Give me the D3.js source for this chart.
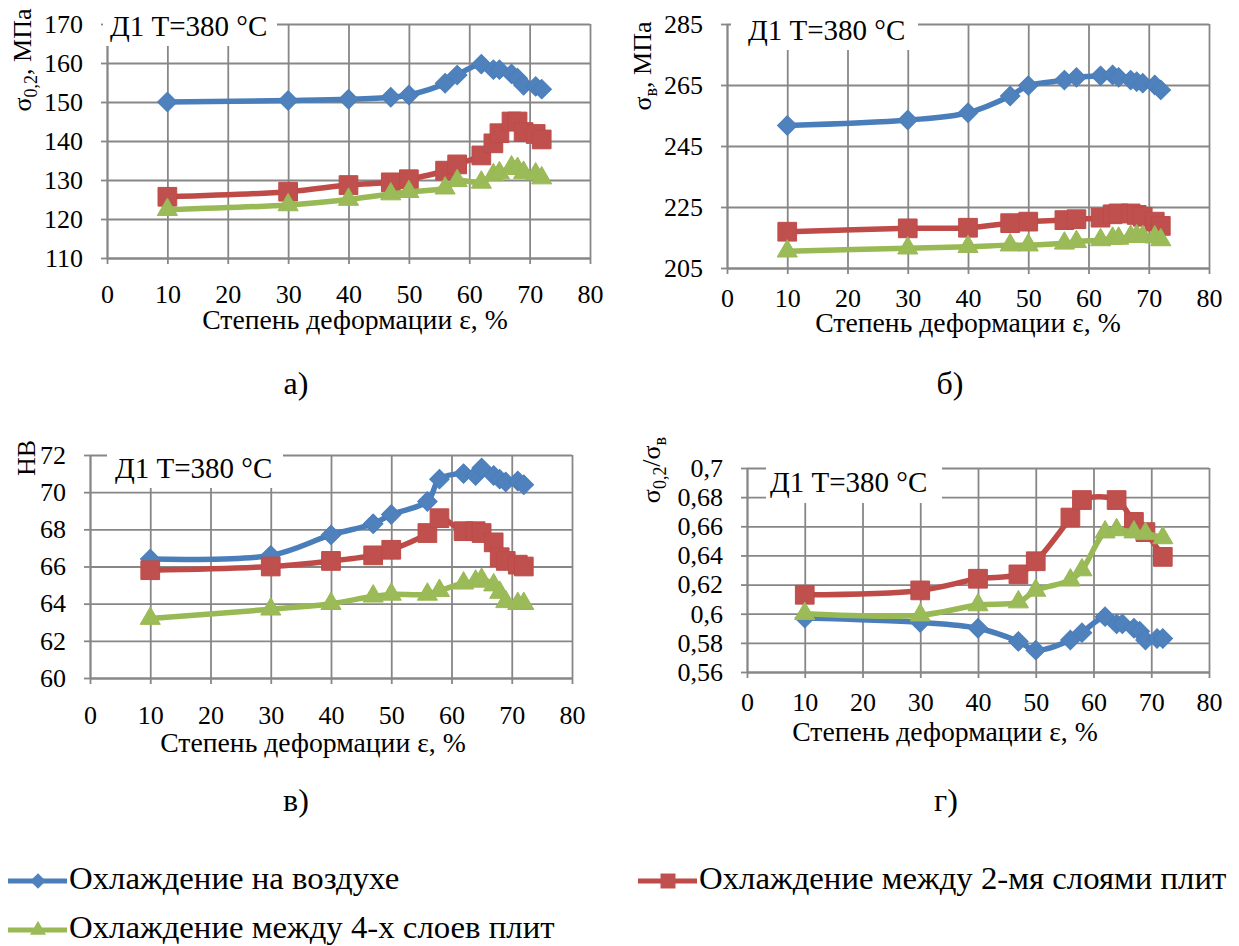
<!DOCTYPE html>
<html>
<head>
<meta charset="utf-8">
<script src="https://cdn.jsdelivr.net/npm/d3@7"></script>
<style>
  body { margin: 0; background: #fff; }
  svg text { font-family: "Liberation Serif", "Times New Roman", Tinos, "DejaVu Serif", "Noto Serif", serif; fill: #000; }
</style>
</head>
<body>
<svg id="chart" width="1239" height="946"></svg>
<script>
// Degree of deformation, %
const degree = [10, 30, 40, 47, 50, 56, 58, 62, 64, 65, 67, 68, 69, 71, 72];

const seriesNames = [
  "Охлаждение на воздухе",
  "Охлаждение между 2-мя слоями плит",
  "Охлаждение между 4-х слоев плит"
];

// а) yield strength σ0,2, MPa
const yieldAir  = [150.0, 150.4, 150.7, 151.2, 151.8, 154.8, 156.9, 159.7, 158.3, 158.3, 157.2, 156.1, 154.3, 154.0, 153.3];
const yieldTwo  = [125.7, 127.0, 128.7, 129.4, 130.2, 132.4, 134.0, 136.3, 139.4, 142.0, 145.0, 145.0, 142.3, 141.8, 140.4];
const yieldFour = [122.4, 123.6, 125.0, 126.4, 127.0, 127.9, 129.8, 129.4, 131.3, 131.8, 133.3, 132.9, 131.9, 131.5, 130.5];

// б) tensile strength σв, MPa
const tensileAir  = [251.7, 253.5, 255.9, 261.4, 264.8, 266.6, 267.5, 268.0, 268.3, 267.5, 266.6, 266.1, 265.6, 265.0, 263.4];
const tensileTwo  = [216.9, 218.0, 218.2, 219.7, 220.2, 220.7, 221.0, 221.5, 222.6, 222.9, 222.9, 222.4, 221.8, 220.2, 218.8];
const tensileFour = [210.5, 211.5, 212.0, 212.5, 212.5, 213.1, 213.6, 214.2, 214.7, 214.7, 215.3, 215.5, 215.3, 215.1, 214.2];

// в) hardness HB
const hardAir  = [66.4, 66.6, 67.7, 68.3, 68.8, 69.5, 70.7, 71.0, 70.9, 71.3, 70.9, 70.7, 70.55, 70.6, 70.4];
const hardTwo  = [65.8, 66.0, 66.3, 66.6, 66.9, 67.8, 68.6, 67.9, 67.9, 67.8, 67.3, 66.5, 66.3, 66.1, 66.0];
const hardFour = [63.2, 63.7, 64.0, 64.4, 64.5, 64.5, 64.7, 65.1, 65.2, 65.3, 65.0, 64.6, 64.1, 64.0, 64.0];

// г) ratio σ0,2/σв (null = no point at that degree)
const ratioAir  = [0.597, 0.594, 0.590, 0.581, 0.575, 0.582, 0.587, 0.598, 0.593, 0.593, 0.590, 0.588, 0.582, 0.583, 0.583];
const ratioTwo  = [0.613, 0.616, 0.624, 0.627, 0.636, 0.666, 0.678, null, 0.678, null, 0.663, null, 0.656, null, 0.639];
const ratioFour = [0.600, 0.599, 0.606, 0.608, 0.616, 0.623, 0.630, 0.656, 0.6575, null, 0.656, null, 0.655, null, 0.652];

// tick values
const xTicks = [0, 10, 20, 30, 40, 50, 60, 70, 80];
const yieldTicks = [110, 120, 130, 140, 150, 160, 170];
const tensileTicks = [205, 225, 245, 265, 285];
const hardTicks = [60, 62, 64, 66, 68, 70, 72];
const ratioTicks = [0.56, 0.58, 0.6, 0.62, 0.64, 0.66, 0.68, 0.7];

const colors = ["#4A7EBB", "#BE4B48", "#98B954"];
const markerFill = ["#4F81BD", "#C0504D", "#9BBB59"];
const gridColor = "#878787";
const serif = "'Liberation Serif', 'Times New Roman', Tinos, 'DejaVu Serif', 'Noto Serif', serif";
const noteText = "Д1 T=380 °C";
const xTitle = "Степень деформации ε, %";

const svg = d3.select("#chart");

// stretch a text horizontally a little (the source fonts run wider)
function widen(sel, k) {
  sel.each(function () {
    const w = this.getComputedTextLength();
    d3.select(this).attr("textLength", w * k).attr("lengthAdjust", "spacingAndGlyphs");
  });
}

// marker shapes: diamond, square, triangle
function marker(i, scale) {
  const s = scale || 1;
  if (i === 0) return { path: d3.symbol(d3.symbolSquare, 190 * s * s)(), rot: 45 };
  if (i === 1) return { path: d3.symbol(d3.symbolSquare, 350 * s * s)(), rot: 0 };
  return { path: d3.symbol(d3.symbolTriangle, 175 * s * s)(), rot: 0 };
}

const panels = [
  { series: [yieldAir, yieldTwo, yieldFour], ticks: yieldTicks, domain: [110, 170],
    left: 107, right: 590, top: 24, bottom: 258, xPad: 21, titleY: 329,
    box: [103, 6, 174, 40], note: [110, 36], xTitleX: 355, letter: "а)", letterPos: [296, 394],
    yTitle: [{ t: "σ" }, { t: "0,2", sub: true }, { t: ", МПа" }], yTitlePos: [31, 60] },
  { series: [tensileAir, tensileTwo, tensileFour], ticks: tensileTicks, domain: [205, 285],
    left: 727, right: 1209, top: 24, bottom: 268, xPad: 15, titleY: 332,
    box: [731, 6, 187, 44], note: [748, 40], xTitleX: 968, letter: "б)", letterPos: [950, 394],
    yTitle: [{ t: "σ" }, { t: "в", sub: true }, { t: ", МПа" }], yTitlePos: [651, 66] },
  { series: [hardAir, hardTwo, hardFour], ticks: hardTicks, domain: [60, 72],
    left: 90, right: 572, top: 455, bottom: 678, xPad: 22, titleY: 752,
    box: [107, 438, 176, 50], note: [115, 478], xTitleX: 313, letter: "в)", letterPos: [296, 811],
    yTitle: [{ t: "НВ" }], yTitlePos: [35, 458] },
  { series: [ratioAir, ratioTwo, ratioFour], ticks: ratioTicks, domain: [0.56, 0.7],
    left: 747, right: 1209, top: 468, bottom: 672, xPad: 15, titleY: 741,
    box: [766, 452, 176, 51], note: [770, 492], xTitleX: 945, letter: "г)", letterPos: [946, 811],
    yTitle: [{ t: "σ" }, { t: "0,2", sub: true }, { t: "/σ" }, { t: "в", sub: true }], yTitlePos: [660, 470] }
];

function styleAxis(sel) {
  sel.attr("font-family", serif).attr("font-size", 26);
  sel.selectAll("line, path").attr("stroke", gridColor).attr("stroke-width", 1.8);
  sel.selectAll("text").attr("fill", "#000");
}

function drawPanel(p) {
  const x = d3.scaleLinear().domain([0, 80]).range([p.left, p.right]);
  const y = d3.scaleLinear().domain(p.domain).range([p.bottom, p.top]);
  const g = svg.append("g").attr("font-family", serif);
  const fmt = d => String(d).replace(".", ",");

  // grid
  g.append("g")
    .attr("transform", `translate(${p.left},0)`)
    .call(d3.axisLeft(y).tickValues(p.ticks).tickSize(-(p.right - p.left)).tickFormat(""))
    .call(s => s.select(".domain").remove())
    .call(styleAxis);
  g.append("g")
    .attr("transform", `translate(0,${p.bottom})`)
    .call(d3.axisBottom(x).tickValues(xTicks).tickSize(-(p.bottom - p.top)).tickFormat(""))
    .call(s => s.select(".domain").remove())
    .call(styleAxis);

  // axes with labels
  g.append("g")
    .attr("transform", `translate(${p.left},0)`)
    .call(d3.axisLeft(y).tickValues(p.ticks).tickSizeInner(6).tickSizeOuter(0).tickPadding(18).tickFormat(fmt))
    .call(styleAxis);
  g.append("g")
    .attr("transform", `translate(0,${p.bottom})`)
    .call(d3.axisBottom(x).tickValues(xTicks).tickSizeInner(6).tickSizeOuter(0).tickPadding(p.xPad))
    .call(styleAxis);

  // note box
  g.append("rect")
    .attr("x", p.box[0]).attr("y", p.box[1])
    .attr("width", p.box[2]).attr("height", p.box[3])
    .attr("fill", "#fff");
  g.append("text")
    .attr("x", p.note[0]).attr("y", p.note[1])
    .attr("font-size", 29)
    .text(noteText);

  // x title
  g.append("text")
    .attr("x", p.xTitleX).attr("y", p.titleY)
    .attr("text-anchor", "middle")
    .attr("font-size", 26.5)
    .text(xTitle)
    .call(widen, 1.045);

  // y title (rotated)
  const yt = g.append("text")
    .attr("transform", `translate(${p.yTitlePos[0]},${p.yTitlePos[1]}) rotate(-90)`)
    .attr("text-anchor", "middle")
    .attr("font-size", 26);
  let shifted = false;
  p.yTitle.forEach(part => {
    const ts = yt.append("tspan").text(part.t);
    if (part.sub && !shifted) { ts.attr("dy", 6).attr("font-size", 18); shifted = true; }
    else if (part.sub) { ts.attr("font-size", 18); }
    else if (shifted) { ts.attr("dy", -6); shifted = false; }
  });

  // panel letter
  g.append("text")
    .attr("x", p.letterPos[0]).attr("y", p.letterPos[1])
    .attr("text-anchor", "middle")
    .attr("font-size", 32)
    .text(p.letter);

  // series
  const line = d3.line()
    .x(d => x(d[0]))
    .y(d => y(d[1]))
    .curve(d3.curveCatmullRom.alpha(0.5));

  p.series.forEach((vals, i) => {
    const pts = degree.map((d, k) => [d, vals[k]]).filter(d => d[1] != null);
    g.append("path")
      .datum(pts)
      .attr("fill", "none")
      .attr("stroke", colors[i])
      .attr("stroke-width", 5.5)
      .attr("stroke-linejoin", "round")
      .attr("d", line);
    const m = marker(i);
    g.selectAll(null)
      .data(pts)
      .join("path")
      .attr("transform", d => `translate(${x(d[0])},${y(d[1])}) rotate(${m.rot})`)
      .attr("d", m.path)
      .attr("fill", markerFill[i])
      .attr("stroke", colors[i])
      .attr("stroke-width", 1);
  });
}

panels.forEach(drawPanel);

// legend
const legendItems = [
  { i: 0, x: 8, y: 881 },
  { i: 1, x: 638, y: 881 },
  { i: 2, x: 8, y: 930 }
];
legendItems.forEach(it => {
  const lg = svg.append("g").attr("font-family", serif);
  lg.append("line")
    .attr("x1", it.x).attr("x2", it.x + 59)
    .attr("y1", it.y).attr("y2", it.y)
    .attr("stroke", colors[it.i]).attr("stroke-width", 5);
  const m = marker(it.i, 0.8);
  lg.append("path")
    .attr("transform", `translate(${it.x + 30},${it.y}) rotate(${m.rot})`)
    .attr("d", m.path)
    .attr("fill", markerFill[it.i]);
  lg.append("text")
    .attr("x", it.x + 61).attr("y", it.y + 8)
    .attr("font-size", 30.5)
    .text(seriesNames[it.i])
    .call(widen, 1.075);
});
</script>
</body>
</html>
